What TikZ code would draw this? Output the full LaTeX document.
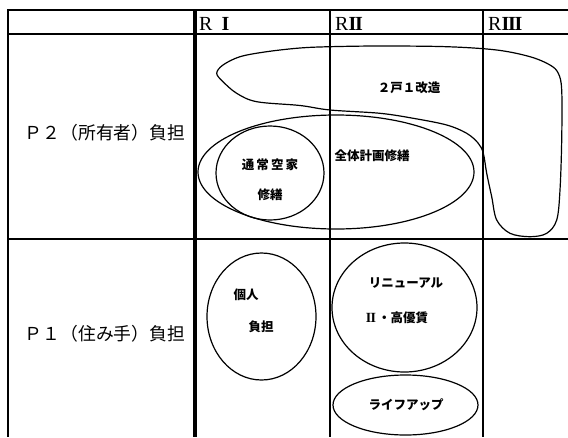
\documentclass[tikz,border=0pt]{standalone}
\usepackage{fontspec}
\setmainfont{Liberation Serif}
\newfontfamily\cjk{Noto Sans CJK JP}
\newfontfamily\serifnum{Liberation Serif}
\newcommand{\romnum}[1]{{\bfseries #1}}
\begin{document}
\begin{tikzpicture}[x=1pt,y=-1pt,
  rule/.style={line width=#1, black},
  blob/.style={line width=1.2pt},
  lab/.style={font=\cjk\bfseries\fontsize{12.5}{14}\selectfont, inner sep=0pt},
  rowlab/.style={font=\cjk\fontsize{17.8}{19}\selectfont, inner sep=0pt},
  head/.style={font=\fontsize{20}{21}\selectfont, inner sep=0pt, anchor=base west}]
\useasboundingbox (0,0) rectangle (568,437);
\fill[white] (0,0) rectangle (568,437);
% grid
\draw[rule=1.5pt] (8,10) -- (568,10);
\draw[rule=2.5pt] (8,34) -- (568,34);
\draw[rule=2pt] (8,239) -- (568,239);
\draw[rule=2pt] (8,9) -- (8,437);
\draw[rule=3.2pt] (195,9) -- (195,437);
\draw[rule=1.8pt] (330,9) -- (330,437);
\draw[rule=2.6pt] (483,9) -- (483,437);
% headers
\node[head] (h1) at (199,30) {R\hspace{9pt}\romnum{I}};
\node[head] (h2) at (335,30) {R\romnum{I\kern-1.2pt I}};
\node[head] (h3) at (488,30) {R\romnum{I\kern-1.2pt I\kern-1.2pt I}};
% row labels
\node[rowlab] (p2) at (105,133) {Ｐ２（所有者）負担};
\node[rowlab] (p1) at (105,334) {Ｐ１（住み手）負担};
% blob 2戸1改造
\draw[blob] plot[smooth cycle, tension=0.55] coordinates {
 (216.7,73.3) (223,65) (240,56.7) (266.7,51.7) (300,48) (330,46.7) (380,46) (446.7,46.7)
 (496.7,50) (530,56.7) (550,65) (558.3,73.3) (561.7,90) (561.7,140)
 (560,190) (556.7,220) (546.7,233.3) (530,236.7) (510,233.3) (496.7,220)
 (491.7,196.7) (486.7,173.3) (483.3,153.3) (478.3,143.3) (466.7,133.3)
 (446.7,125) (413.3,118.3) (380,113.3) (330,110) (300,105.5)
 (256.7,101.7) (236.7,93.3) (223,81.7)};
\node[lab] (t1) at (409,88) {２戸１改造};
% ellipses upper
\draw[blob] (336,172) ellipse [x radius=138pt, y radius=57pt];
\draw[blob] (270,173) ellipse [x radius=54pt, y radius=47pt];
\node[lab] (t2) at (372,156) {全体計画修繕};
\node[lab] (t3) at (270,165) {通\,常\,空\,家};
\node[lab] (t4) at (270,195) {修繕};
% ellipses lower
\draw[blob] (261.5,316.5) ellipse [x radius=54.5pt, y radius=63.5pt];
\node[lab] (t5) at (246,295) {個人};
\node[lab] (t6) at (261,327) {負担};
\draw[blob] (404.5,307.5) ellipse [x radius=72.5pt, y radius=64.5pt];
\node[lab] (t7) at (406,283) {リニューアル};
\node[lab] (t8) at (397,318) {{\serifnum\bfseries\fontsize{14}{14}\selectfont I\kern-0.9pt I}\,・高優賃};
\draw[blob] (405.5,405) ellipse [x radius=72.5pt, y radius=30pt];
\node[lab] (t9) at (406,405) {ライフアップ};
\end{tikzpicture}
\end{document}
